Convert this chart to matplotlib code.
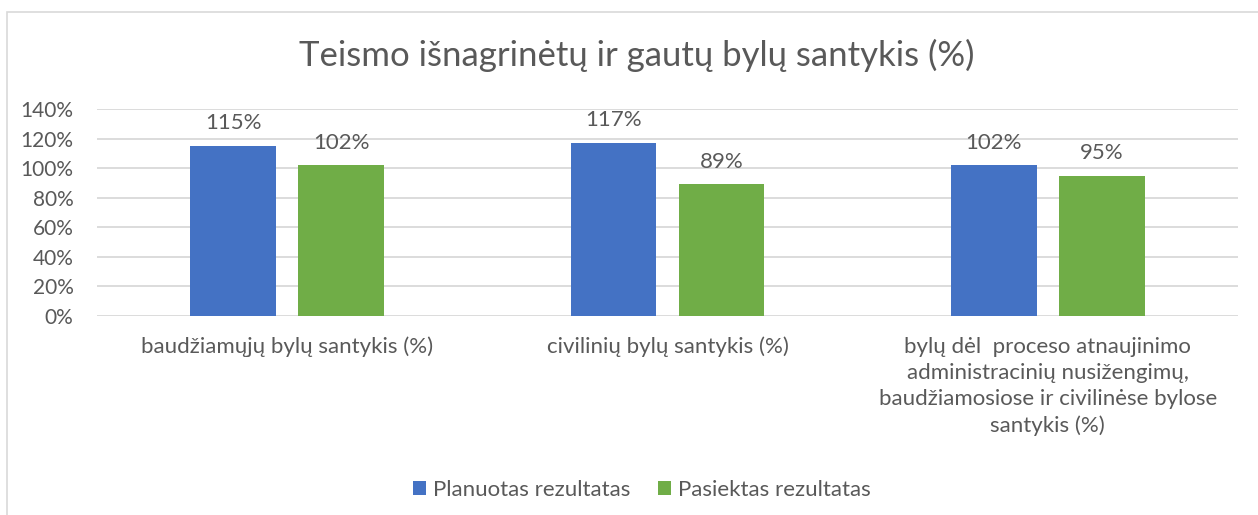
import numpy as np
import matplotlib
matplotlib.use('Agg')
import matplotlib.pyplot as plt
from matplotlib.patches import Rectangle

plt.rcParams['font.family'] = ['Lato', 'DejaVu Sans']

# data
categories = ['baudžiamųjų bylų santykis (%)',
              'civilinių bylų santykis (%)',
              'bylų dėl  proceso atnaujinimo\nadministracinių nusižengimų,\nbaudžiamosiose ir civilinėse bylose\nsantykis (%)']
planned = [1.15, 1.17, 1.02]
achieved = [1.02, 0.89, 0.95]
series_names = ['Planuotas rezultatas', 'Pasiektas rezultatas']
yticks = [0, 0.2, 0.4, 0.6, 0.8, 1.0, 1.2, 1.4]

blue = '#4472C4'
green = '#70AD47'
txt = '#595959'
grid = '#D9D9D9'

fig = plt.figure(figsize=(12.58, 5.15), dpi=100)
ax = fig.add_axes([97/1258, 1-316/515, (1238-97)/1258, (316-109)/515])

x = np.arange(len(categories))
w = 0.226
off = 0.142
b1 = ax.bar(x - off, planned, w, color=blue, label=series_names[0], zorder=3)
b2 = ax.bar(x + off, achieved, w, color=green, label=series_names[1], zorder=3)

for bars, vals in [(b1, planned), (b2, achieved)]:
    for r, v in zip(bars, vals):
        ax.text(r.get_x() + r.get_width()/2, v + 0.085, f'{round(v*100)}%',
                ha='center', va='bottom', fontsize=16, color=txt)

ax.set_xlim(-0.5, 2.5)
ax.set_ylim(0, 1.4)
ax.set_yticks(yticks)
ax.set_yticklabels([f'{round(t*100)}%' for t in yticks], fontsize=15, color=txt)
ax.set_xticks(x)
ax.set_xticklabels(categories, fontsize=16, color=txt, linespacing=1.38)
ax.tick_params(axis='both', length=0)
ax.tick_params(axis='x', pad=15)
ax.tick_params(axis='y', pad=17)
ax.grid(axis='y', color=grid, linewidth=1.3, zorder=0)
for s in ax.spines.values():
    s.set_visible(False)

fig.text(0.506, 1-55/515, 'Teismo išnagrinėtų ir gautų bylų santykis (%)',
         ha='center', va='center', fontsize=25, color=txt)

fig.legend(loc='center', bbox_to_anchor=(0.51, 1-490/515), ncol=2, frameon=False,
           fontsize=16, labelcolor=txt, handlelength=0.6, handleheight=0.6,
           handletextpad=0.3, columnspacing=1.25)

fig.add_artist(Rectangle((7/1258, -0.1), 1.2, (515-12)/515 + 0.1,
                         transform=fig.transFigure, fill=False,
                         edgecolor=grid, linewidth=1.2))

fig.savefig('out.png', dpi=100)
